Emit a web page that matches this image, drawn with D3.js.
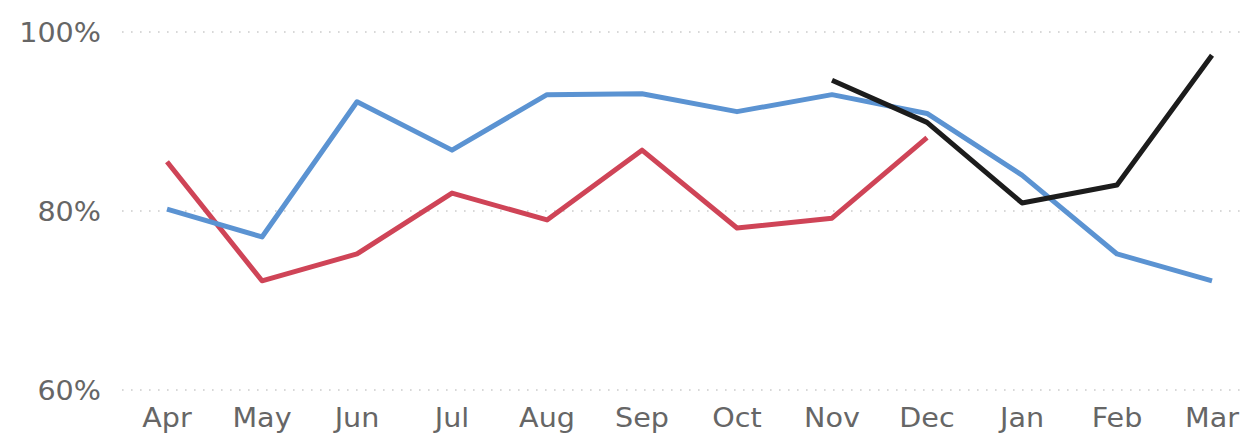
<!DOCTYPE html>
<html><head><meta charset="utf-8">
<script src="https://cdn.jsdelivr.net/npm/d3@7"></script>
<style>html,body{margin:0;padding:0;background:#fff;}svg{display:block;}</style>
</head><body>
<svg id="c" width="1245" height="435"></svg>
<script>
const months = ["Apr","May","Jun","Jul","Aug","Sep","Oct","Nov","Dec","Jan","Feb","Mar"];
const blueValues = [80.2,77.1,92.2,86.8,93.0,93.1,91.1,93.0,90.9,84.0,75.2,72.2];
const redValues = [85.5,72.2,75.2,82.0,79.0,86.8,78.1,79.2,88.2,null,null,null];
const blackValues = [null,null,null,null,null,null,null,94.6,89.9,80.9,82.9,97.4];
const yTicks = [60,80,100];
const yTickLabels = ["60%","80%","100%"];

const svg = d3.select("#c");
const x = d3.scalePoint().domain(months).range([167,1212]);
const y = d3.scaleLinear().domain([60,100]).range([390,32]);
const sx = 1.1;
const font = "'DejaVu Sans',Verdana,sans-serif";

// grid
svg.append("g").selectAll("line").data(yTicks).join("line")
  .attr("x1",122).attr("x2",1245)
  .attr("y1",d=>y(d)).attr("y2",d=>y(d))
  .attr("stroke","#cccccc").attr("stroke-width",1.6)
  .attr("stroke-dasharray","1.6,7.4");

// y labels
svg.append("g").selectAll("text").data(yTicks).join("text")
  .attr("transform",d=>`translate(101,${y(d)+10}) scale(${sx},1)`)
  .attr("text-anchor","end")
  .style("font-family",font).style("font-size","26px")
  .attr("fill","#666").text((d,i)=>yTickLabels[i]);

// x labels
svg.append("g").selectAll("text").data(months).join("text")
  .attr("transform",d=>`translate(${x(d)},427) scale(${sx},1)`)
  .attr("text-anchor","middle")
  .style("font-family",font).style("font-size","26px")
  .attr("fill","#666").text(d=>d);

const line = d3.line().defined(d=>d.v!=null).x(d=>x(d.m)).y(d=>y(d.v));
const series = [
  {vals: redValues, color:"#cf4457"},
  {vals: blueValues, color:"#5b93d2"},
  {vals: blackValues, color:"#1c1c1c"}
];
series.forEach(s=>{
  const data = months.map((m,i)=>({m, v:s.vals[i]}));
  svg.append("path").datum(data).attr("d",line)
    .attr("fill","none").attr("stroke",s.color).attr("stroke-width",5)
    .attr("stroke-linejoin","round").attr("stroke-linecap","butt");
});
</script>
</body></html>
